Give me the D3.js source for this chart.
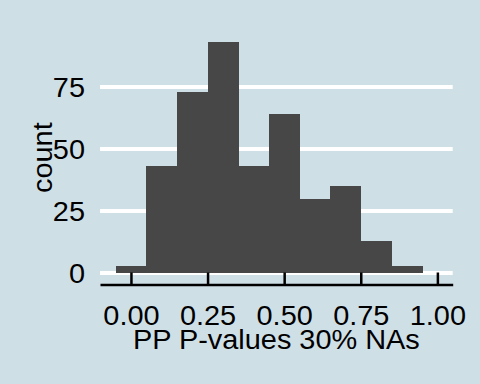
<!DOCTYPE html>
<html><head><meta charset="utf-8">
<script src="https://cdn.jsdelivr.net/npm/d3@7"></script>
<style>html,body{margin:0;padding:0;background:#cfdfe6;}svg{display:block;}</style>
</head><body>
<script>
const binCenters = [0.0, 0.1, 0.2, 0.3, 0.4, 0.5, 0.6, 0.7, 0.8, 0.9];
const counts = [3, 43, 73, 93, 43, 64, 30, 35, 13, 3];
const binWidth = 0.1;
const xTicks = [0, 0.25, 0.5, 0.75, 1.0];
const yTicks = [0, 25, 50, 75];
const xTitle = "PP P-values 30% NAs";
const yTitle = "count";

const W = 480, H = 384;
const svg = d3.select("body").append("svg").attr("width", W).attr("height", H);
svg.append("rect").attr("width", W).attr("height", H).attr("fill", "#cfdfe6");

const x = d3.scaleLinear().domain([-0.101, 1.05]).range([100, 452.7]);
const y = d3.scaleLinear().domain([-4.65, 97.65]).range([284.5, 30.8]);

// gridlines
svg.append("g").selectAll("line").data(yTicks).join("line")
  .attr("x1", x.range()[0]).attr("x2", x.range()[1])
  .attr("y1", d => y(d)).attr("y2", d => y(d))
  .attr("stroke", "#ffffff").attr("stroke-width", 4);

// bars
svg.append("g").attr("shape-rendering", "crispEdges").selectAll("rect").data(binCenters).join("rect")
  .attr("x", d => x(d - binWidth / 2))
  .attr("width", d => x(d + binWidth / 2) - x(d - binWidth / 2) + 0.5)
  .attr("y", (d, i) => y(counts[i]))
  .attr("height", (d, i) => y(0) - y(counts[i]))
  .attr("fill", "#474747");

// x axis
const font = "'Liberation Sans', Arial, sans-serif";
const fs = 27;
const stretch = 1.07;
const xa = svg.append("g").attr("transform", `translate(0,${y.range()[0]})`)
  .call(d3.axisBottom(x).tickValues(xTicks).tickFormat(d3.format(".2f")).tickSizeInner(-12).tickSizeOuter(0));
xa.select(".domain").attr("stroke", "#000").attr("stroke-width", 2.5);
xa.selectAll(".tick line").attr("stroke", "#000").attr("stroke-width", 2.5);
xa.selectAll(".tick text").attr("font-family", font).attr("font-size", fs).attr("fill", "#000").attr("dy", "0").attr("y", 40.8);

// y axis
const ya = svg.append("g").attr("transform", `translate(${x.range()[0]},0)`)
  .call(d3.axisLeft(y).tickValues(yTicks).tickSize(0).tickPadding(15));
ya.select(".domain").remove();
ya.selectAll(".tick text").attr("font-family", font).attr("font-size", fs).attr("fill", "#000").attr("dy", "0.36em");

// titles
svg.append("text").attr("class", "ttl").attr("x", (x.range()[0] + x.range()[1]) / 2).attr("y", 348.7)
  .attr("text-anchor", "middle").attr("font-family", font).attr("font-size", fs).attr("fill", "#000")
  .text(xTitle);
svg.append("text").attr("class", "ttl").attr("transform", `translate(51.5,${(y.range()[0] + y.range()[1]) / 2}) rotate(-90)`)
  .attr("text-anchor", "middle").attr("font-family", font).attr("font-size", fs).attr("fill", "#000")
  .text(yTitle);

// slight horizontal stretch to match reference glyph widths
svg.selectAll("text").each(function () {
  const len = this.getComputedTextLength();
  d3.select(this).attr("textLength", len * stretch).attr("lengthAdjust", "spacingAndGlyphs");
});
</script>
</body></html>
